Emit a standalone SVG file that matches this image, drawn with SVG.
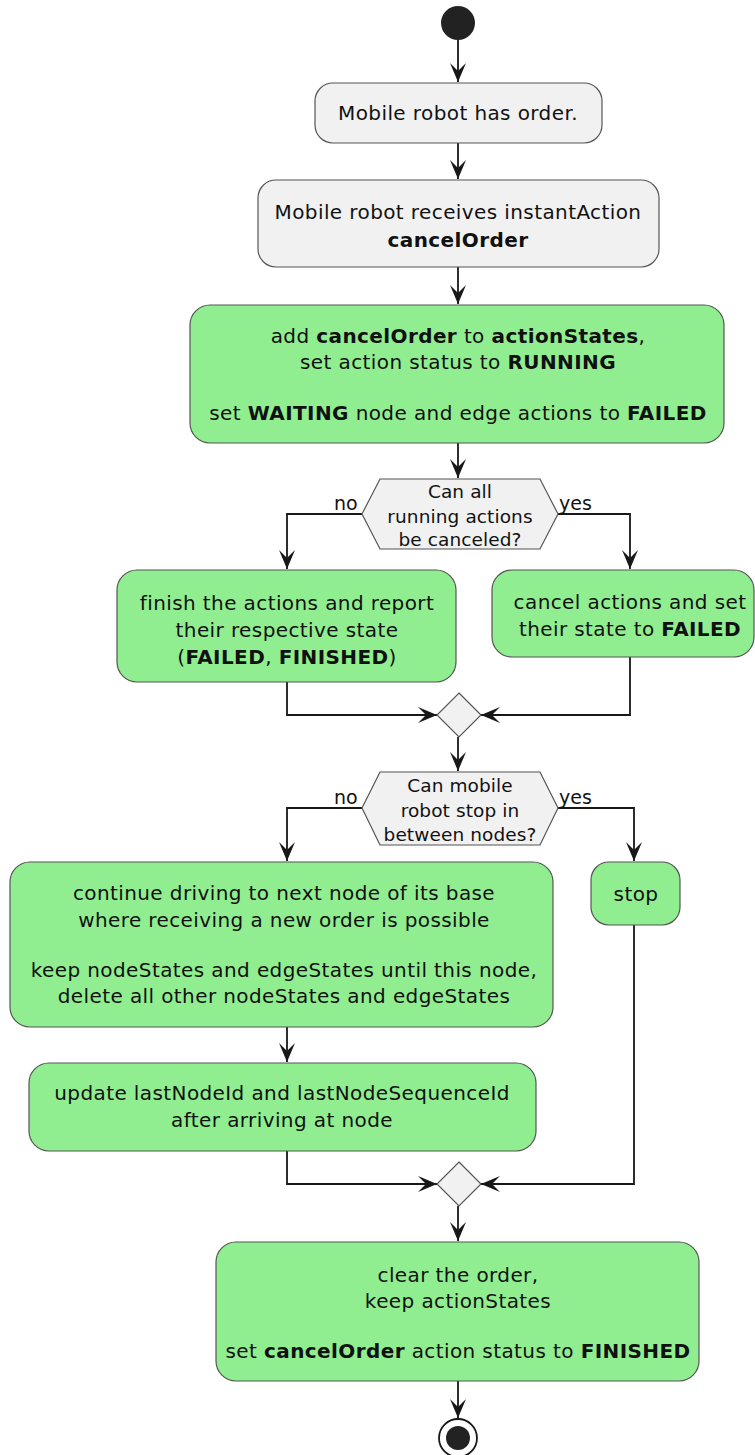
<svg xmlns="http://www.w3.org/2000/svg" width="755" height="1455" viewBox="0 0 755 1455">
  <style>
    text { font-family: "DejaVu Sans", "Liberation Sans", sans-serif; font-size: 20px; letter-spacing: 0.4px; fill: #111; text-anchor: middle; }
    .b { font-weight: bold; }
    .q { font-size: 18.5px; letter-spacing: 0.1px; }
    .lbl { text-anchor: start; letter-spacing: 0; font-size: 19px; }
    .grey { fill: #f1f1f1; stroke: #555; stroke-width: 1.2; }
    .green { fill: #90ee90; stroke: #555; stroke-width: 1.2; }
    .edge { fill: none; stroke: #181818; stroke-width: 1.8; }
  </style>
  <defs>
    <marker id="arrow" viewBox="-20 -10 22 20" refX="0" refY="0" markerWidth="22" markerHeight="20" markerUnits="userSpaceOnUse" orient="auto">
      <path d="M0,0 L-19,-8 L-11,0 L-19,8 Z" fill="#181818"/>
    </marker>
  </defs>

  <!-- connectors -->
  <g id="connectors">
    <path class="edge" d="M458,40 V82" marker-end="url(#arrow)"/>
    <path class="edge" d="M458,143 V179" marker-end="url(#arrow)"/>
    <path class="edge" d="M458,267 V304" marker-end="url(#arrow)"/>
    <path class="edge" d="M458,443 V478" marker-end="url(#arrow)"/>
    <path class="edge" d="M362,514 H287 V569" marker-end="url(#arrow)"/>
    <path class="edge" d="M558,514 H630 V569" marker-end="url(#arrow)"/>
    <path class="edge" d="M287,682 V715 H437" marker-end="url(#arrow)"/>
    <path class="edge" d="M630,657 V715 H481" marker-end="url(#arrow)"/>
    <path class="edge" d="M458,737 V771" marker-end="url(#arrow)"/>
    <path class="edge" d="M362,808 H287 V861" marker-end="url(#arrow)"/>
    <path class="edge" d="M558,808 H634 V861" marker-end="url(#arrow)"/>
    <path class="edge" d="M287,1027 V1062" marker-end="url(#arrow)"/>
    <path class="edge" d="M287,1151 V1184 H437" marker-end="url(#arrow)"/>
    <path class="edge" d="M634,925 V1184 H481" marker-end="url(#arrow)"/>
    <path class="edge" d="M458,1206 V1241" marker-end="url(#arrow)"/>
    <path class="edge" d="M458,1381 V1418" marker-end="url(#arrow)"/>
  </g>

  <g id="start">
    <circle cx="458" cy="23" r="17" fill="#222"/>
  </g>

  <g id="has-order">
    <rect class="grey" x="315" y="83" width="287" height="60" rx="18"/>
    <text x="458" y="120">Mobile robot has order.</text>
  </g>

  <g id="receives-cancel">
    <rect class="grey" x="258" y="180" width="401" height="87" rx="18"/>
    <text x="458" y="219">Mobile robot receives instantAction</text>
    <text x="458" y="247" class="b">cancelOrder</text>
  </g>

  <g id="add-cancel">
    <rect class="green" x="190" y="305" width="534" height="138" rx="20"/>
    <text x="458" y="343">add <tspan class="b">cancelOrder</tspan> to <tspan class="b">actionStates</tspan>,</text>
    <text x="458" y="369">set action status to <tspan class="b">RUNNING</tspan></text>
    <text x="458" y="420">set <tspan class="b">WAITING</tspan> node and edge actions to <tspan class="b">FAILED</tspan></text>
  </g>

  <g id="decision-cancel">
    <polygon class="grey" points="362,514 380,479 540,479 558,514 540,549 380,549"/>
    <text class="q" x="460" y="498">Can all</text>
    <text class="q" x="460" y="523">running actions</text>
    <text class="q" x="460" y="546">be canceled?</text>
    <text class="lbl" x="334" y="510">no</text>
    <text class="lbl" x="559" y="510">yes</text>
  </g>

  <g id="finish-actions">
    <rect class="green" x="117" y="570" width="339" height="112" rx="20"/>
    <text x="287" y="610">finish the actions and report</text>
    <text x="287" y="637">their respective state</text>
    <text x="287" y="664">(<tspan class="b">FAILED</tspan>, <tspan class="b">FINISHED</tspan>)</text>
  </g>

  <g id="cancel-actions">
    <rect class="green" x="492" y="570" width="262" height="87" rx="20"/>
    <text x="630" y="609">cancel actions and set</text>
    <text x="630" y="636">their state to <tspan class="b">FAILED</tspan></text>
  </g>

  <g id="merge-1">
    <polygon class="grey" points="459,693 481,715 459,737 437,715"/>
  </g>

  <g id="decision-stop">
    <polygon class="grey" points="362,808 380,772 540,772 558,808 540,845 380,845"/>
    <text class="q" x="460" y="792">Can mobile</text>
    <text class="q" x="460" y="817">robot stop in</text>
    <text class="q" x="460" y="841">between nodes?</text>
    <text class="lbl" x="334" y="804">no</text>
    <text class="lbl" x="559" y="804">yes</text>
  </g>

  <g id="continue-driving">
    <rect class="green" x="10" y="862" width="543" height="165" rx="20"/>
    <text x="284" y="900">continue driving to next node of its base</text>
    <text x="284" y="927">where receiving a new order is possible</text>
    <text x="284" y="977">keep nodeStates and edgeStates until this node,</text>
    <text x="284" y="1003">delete all other nodeStates and edgeStates</text>
  </g>

  <g id="stop">
    <rect class="green" x="591" y="862" width="89" height="63" rx="18"/>
    <text x="636" y="901">stop</text>
  </g>

  <g id="update-last-node">
    <rect class="green" x="29" y="1063" width="507" height="88" rx="20"/>
    <text x="282" y="1100">update lastNodeId and lastNodeSequenceId</text>
    <text x="282" y="1127">after arriving at node</text>
  </g>

  <g id="merge-2">
    <polygon class="grey" points="459,1162 481,1184 459,1206 437,1184"/>
  </g>

  <g id="clear-order">
    <rect class="green" x="216" y="1242" width="483" height="139" rx="20"/>
    <text x="458" y="1282">clear the order,</text>
    <text x="458" y="1308">keep actionStates</text>
    <text x="458" y="1358">set <tspan class="b">cancelOrder</tspan> action status to <tspan class="b">FINISHED</tspan></text>
  </g>

  <g id="end">
    <circle cx="458" cy="1438" r="19" fill="#fff" stroke="#181818" stroke-width="1.8"/>
    <circle cx="458" cy="1438" r="12" fill="#222"/>
  </g>
</svg>
